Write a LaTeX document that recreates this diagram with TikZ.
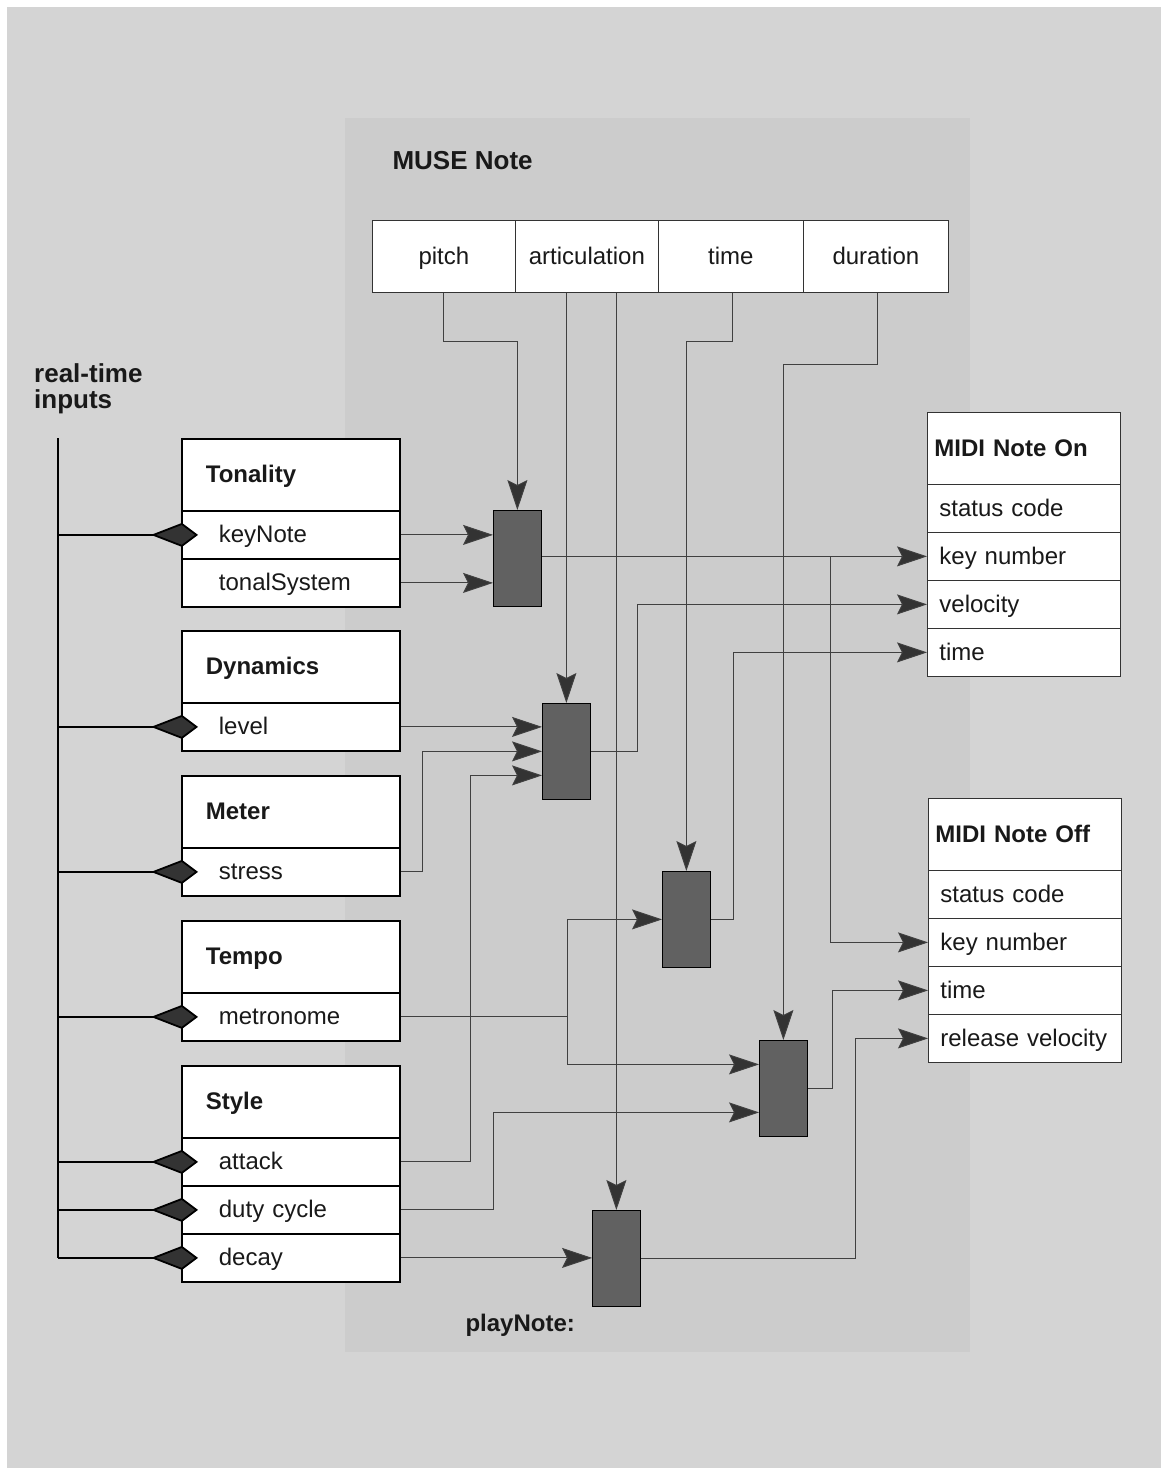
\documentclass[tikz,border=0pt]{standalone}
\usepackage{fontspec}
\setmainfont{Liberation Sans}
\usetikzlibrary{arrows.meta,calc}
\begin{document}
\begin{tikzpicture}[x=1pt,y=-1pt,
  every node/.style={font=\fontsize{24}{28}\selectfont, text=black!90},
  boldlabel/.style={font=\fontsize{24}{28}\selectfont\bfseries},
  cell/.style={draw=black!80, line width=0.8pt, fill=white, inner sep=0pt, text height=18pt, text depth=2pt},
  lrow/.style={cell, draw=black, line width=1.8pt, anchor=north west, inner xsep=37pt, text width=144pt, minimum height=48pt, align=left},
  ltitle/.style={lrow, inner xsep=24pt, text width=170pt, minimum height=72pt, boldlabel},
  mrow/.style={cell, anchor=north west, inner xsep=12pt, text width=169pt, minimum height=48pt, align=left},
  mtitle/.style={mrow, inner xsep=7pt, text width=179pt, minimum height=72pt, boldlabel},
  mcell/.style={cell, anchor=north west, minimum height=72pt},
  gate/.style={draw=black, line width=0.8pt, fill=black!62, minimum width=48pt, minimum height=96pt, anchor=north west, inner sep=0pt},
  conn/.style={draw=black!75, line width=0.9pt},
  feed/.style={conn, -{Stealth[length=30pt,width=20pt,inset=5pt,fill=black!80]}},
  inport/.style={draw=black, line width=1.8pt, -{Kite[length=47pt,width=24pt,inset=31pt,fill=black!80]}, shorten >=-17pt},
]
\useasboundingbox (0,0) rectangle (1161,1470);
% paper and the playNote: method area
\fill[white] (0,0) rectangle (1161,1470);
\fill[black!17] (7,7) rectangle (1161,1468);
\fill[black!20] (345,118) rectangle (970,1352);

% MUSE Note object
\node[boldlabel, font=\fontsize{26}{28}\selectfont\bfseries, anchor=base west] (musetitle) at (389,169) {MUSE Note};
\node[mcell, minimum width=143pt] (pitch) at (372,220) {pitch};
\node[mcell, minimum width=143pt] (artic) at (515,220) {articulation};
\node[mcell, minimum width=145pt] (mtime) at (658,220) {time};
\node[mcell, minimum width=145pt] (dur) at (803,220) {duration};

% real-time inputs
\node[font=\fontsize{26}{28}\selectfont\bfseries, anchor=base west, inner sep=0pt] (rt1) at (34,382) {real-time};
\node[font=\fontsize{26}{28}\selectfont\bfseries, anchor=base west, inner sep=0pt] (rt2) at (34,408) {inputs};

% performance objects
\node[ltitle] (tonality) at (181,438) {Tonality};
\node[lrow] (keynote) at (181,510) {keyNote};
\node[lrow] (tonsys) at (181,558) {tonalSystem};

\node[ltitle] (dynamics) at (181,630) {Dynamics};
\node[lrow] (level) at (181,702) {level};

\node[ltitle] (meter) at (181,775) {Meter};
\node[lrow] (stress) at (181,847) {stress};

\node[ltitle] (tempo) at (181,920) {Tempo};
\node[lrow] (metro) at (181,992) {metronome};

\node[ltitle] (style) at (181,1065) {Style};
\node[lrow] (attack) at (181,1137) {attack};
\node[lrow] (duty) at (181,1185) {duty cycle};
\node[lrow] (decay) at (181,1233) {decay};

% MIDI messages
\node[mtitle] (ontitle) at (927,412) {MIDI Note On};
\node[mrow] (onstatus) at (927,484) {status code};
\node[mrow] (onkey) at (927,532) {key number};
\node[mrow] (onvel) at (927,580) {velocity};
\node[mrow] (ontime) at (927,628) {time};

\node[mtitle] (offtitle) at (928,798) {MIDI Note Off};
\node[mrow] (offstatus) at (928,870) {status code};
\node[mrow] (offkey) at (928,918) {key number};
\node[mrow] (offtime) at (928,966) {time};
\node[mrow] (offrel) at (928,1014) {release velocity};

% mapping stages
\node[gate] (g1) at (493,510) {};
\node[gate] (g2) at (542,703) {};
\node[gate] (g3) at (662,871) {};
\node[gate] (g4) at (759,1040) {};
\node[gate] (g5) at (592,1210) {};
\node[boldlabel, anchor=base west] (playnote) at (462,1331) {playNote:};

% note fields into the stages
\draw[feed] (pitch.south) -- ++(0,49) -| (g1.north);
\draw[feed] (artic.south -| g2.north) -- (g2.north);
\draw[feed] (artic.south -| g5.north) -- (g5.north);
\draw[feed] (mtime.south) ++(1.5,0) -- ++(0,49) -| (g3.north);
\draw[feed] (dur.south) ++(1.5,0) -- ++(0,72) -| (g4.north);

% parameters into the stages
\draw[feed] (keynote.east) -- (keynote.east -| g1.west);
\draw[feed] (tonsys.east) -- (tonsys.east -| g1.west);
\draw[feed] (level.east) -- (level.east -| g2.west);
\draw[feed] (stress.east) -- ++(22,0) |- (g2.west);
\draw[feed] (attack.east) -- ++(70,0) |- ($(g2.west)+(0,24)$);
\draw[conn] (metro.east) -- ++(167,0) coordinate (jm);
\draw[feed] (jm) |- (g3.west);
\draw[feed] (jm) |- ($(g4.west)+(0,-24)$);
\draw[feed] (duty.east) -- ++(93,0) |- ($(g4.west)+(0,24)$);
\draw[feed] (decay.east) -- (decay.east -| g5.west);

% stages into the MIDI messages
\draw[feed] (onkey.west -| g1.east) -- (onkey.west);
\coordinate (jk) at (830,556);
\draw[feed] (jk) |- (offkey.west);
\draw[feed] (g2.east) -- ++(47,0) |- (onvel.west);
\draw[feed] (g3.east) -- ++(23,0) |- (ontime.west);
\draw[feed] (g4.east) -- ++(25,0) |- (offtime.west);
\draw[feed] (g5.east) -- ++(215,0) |- (offrel.west);

% real-time input bus
\coordinate (bustop) at (58,438);
\coordinate (busbot) at (58,1258);
\draw[draw=black, line width=1.8pt] (bustop) -- (busbot);
\foreach \p in {keynote,level,stress,metro,attack,duty,decay}
  \draw[inport] (bustop |- \p.west) -- (\p.west);
\end{tikzpicture}
\end{document}
